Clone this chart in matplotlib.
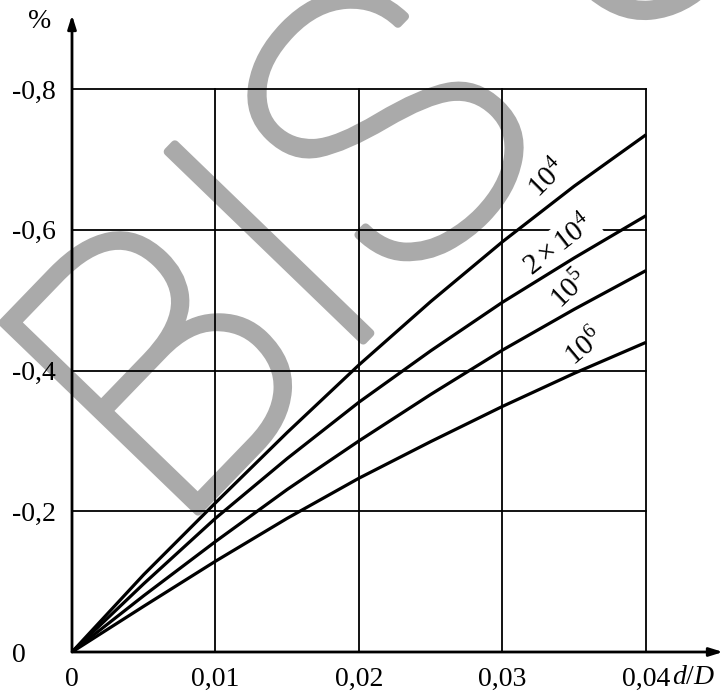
import numpy as np
import matplotlib
matplotlib.use('Agg')
import matplotlib.pyplot as plt
import matplotlib.patheffects as pe

plt.rcParams['font.family'] = ['Liberation Serif', 'DejaVu Serif']
plt.rcParams['mathtext.fontset'] = 'custom'
plt.rcParams['mathtext.rm'] = 'Liberation Serif'
plt.rcParams['mathtext.it'] = 'Liberation Serif:italic'

# d/D values and pressure change (%) for each Reynolds number
d_ratio = [0, 0.005, 0.01, 0.015, 0.02, 0.025, 0.03, 0.035, 0.04]
re_1e4 = [0, -0.110, -0.212, -0.312, -0.408, -0.498, -0.583, -0.662, -0.735]
re_2e4 = [0, -0.097, -0.190, -0.275, -0.355, -0.428, -0.497, -0.560, -0.620]
re_1e5 = [0, -0.080, -0.157, -0.231, -0.300, -0.366, -0.429, -0.487, -0.542]
re_1e6 = [0, -0.065, -0.129, -0.190, -0.247, -0.299, -0.349, -0.396, -0.440]

x_ticks = [0, 0.01, 0.02, 0.03, 0.04]
x_labels = ['0', '0,01', '0,02', '0,03', '0,04']
y_ticks = [0, -0.2, -0.4, -0.6, -0.8]
y_labels = ['0', '-0,2', '-0,4', '-0,6', '-0,8']

W, H = 725, 693
fig = plt.figure(figsize=(W / 100, H / 100), dpi=100)
ax = fig.add_axes([72 / W, 41 / H, (723 - 72) / W, (652 - 15) / H])

x_max = 0.04 * 651 / 574
y_max = -0.8 * 637 / 563
ax.set_xlim(0, x_max)
ax.set_ylim(0, y_max)

for s in ax.spines.values():
    s.set_visible(False)

# watermark behind everything
ax.text(564 / W, 1 - (-18) / H, 'BIS USE', transform=fig.transFigure, fontsize=275,
        family='Roboto', weight='light', color='#aaaaaa', rotation=46,
        ha='center', va='center', zorder=0, clip_on=False,
        path_effects=[pe.withStroke(linewidth=6, foreground='#aaaaaa')])

# grid limited to the data region
for xt in x_ticks[1:]:
    ax.plot([xt, xt], [0, y_ticks[-1]], color='black', lw=1.3, zorder=2)
for yt in y_ticks[1:]:
    ax.plot([0, x_ticks[-1]], [yt, yt], color='black', lw=1.3, zorder=2)

for series in [re_1e4, re_2e4, re_1e5, re_1e6]:
    ax.plot(d_ratio, series, color='black', lw=2.3, zorder=3, solid_capstyle='butt')

# axes with arrows
arrow = dict(arrowstyle='-|>,head_length=0.8,head_width=0.25',
             color='black', lw=2, shrinkA=0, shrinkB=0)
ax.annotate('', xy=(1, 0), xytext=(0, 0), xycoords='axes fraction', arrowprops=arrow)
ax.annotate('', xy=(0, 1), xytext=(0, 0), xycoords='axes fraction', arrowprops=arrow)

ax.set_xticks(x_ticks)
ax.set_xticklabels(x_labels, fontsize=20)
ax.set_yticks(y_ticks)
ax.set_yticklabels(y_labels, fontsize=20)
ax.tick_params(axis='x', length=0, pad=11)
ax.tick_params(axis='y', length=0, pad=43)
for lab in ax.get_yticklabels():
    lab.set_horizontalalignment('left')

# curve labels
ax.text(0.03317, -0.672, '$10^4$', fontsize=21, rotation=45, ha='center', va='center', zorder=2.5)
ax.text(0.03394, -0.577, r'$2\times10^4$', fontsize=21, rotation=38, ha='center', va='center',
        zorder=2.5, bbox=dict(facecolor='white', edgecolor='none', pad=3))
ax.text(0.0347, -0.514, '$10^5$', fontsize=21, rotation=44, ha='center', va='center', zorder=2.5)
ax.text(0.03575, -0.433, '$10^6$', fontsize=21, rotation=40, ha='center', va='center', zorder=2.5)

fig.text(40 / W, 1 - 22 / H, '%', fontsize=20, ha='center', va='center')
fig.text(694 / W, 1 - 677 / H, '$d/D$', fontsize=20, ha='center', va='center')

fig.savefig('out.png', dpi=100)
